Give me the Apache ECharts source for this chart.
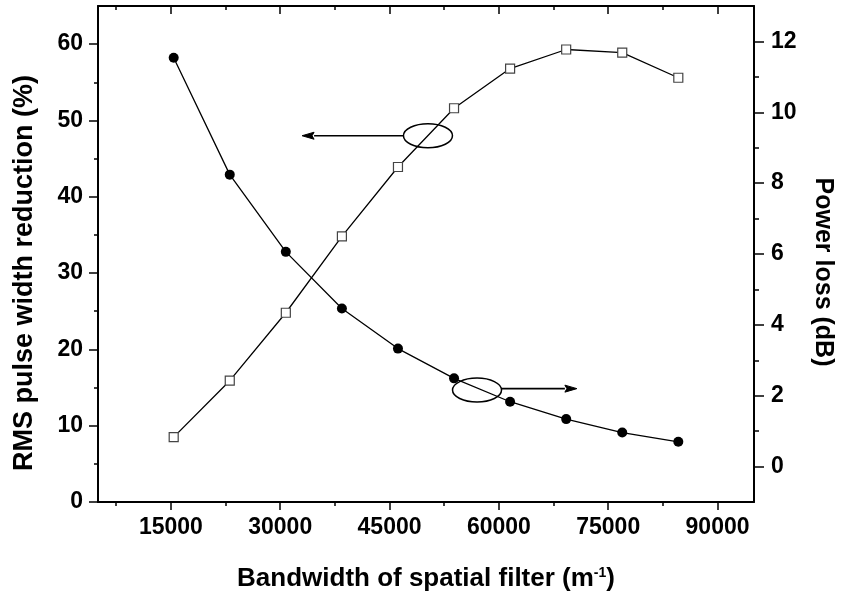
<!DOCTYPE html>
<html><head><meta charset="utf-8">
<script src="https://cdn.jsdelivr.net/npm/echarts@6/dist/echarts.min.js"></script>
<style>html,body{margin:0;padding:0;background:#fff}#c{width:843px;height:602px}</style>
</head><body><div id="c"></div>
<script>
// ---- data ----
const bandwidth = [15385, 23077, 30769, 38462, 46154, 53846, 61538, 69231, 76923, 84615];
const rmsReduction = [8.5, 15.9, 24.8, 34.8, 43.9, 51.6, 56.8, 59.3, 58.9, 55.6];
const powerLoss = [11.54, 8.24, 6.06, 4.46, 3.33, 2.49, 1.83, 1.34, 0.96, 0.70];
const xMajorTicks = [15000, 30000, 45000, 60000, 75000, 90000];
const xMinorTicks = [7500, 22500, 37500, 52500, 67500, 82500];
const leftMajorTicks = [0, 10, 20, 30, 40, 50, 60];
const leftMinorTicks = [5, 15, 25, 35, 45, 55];
const rightMajorTicks = [0, 2, 4, 6, 8, 10, 12];
const rightMinorTicks = [1, 3, 5, 7, 9, 11];
// annotation anchors in data space
const leftAnnot = { center: [50270, 48], from: [46960, 48], to: [33000, 48] };     // left axis
const rightAnnot = { center: [57000, 2.16], from: [60400, 2.2], to: [70700, 2.2] }; // right axis

const FONT = "'Liberation Sans', Arial, sans-serif";
const chart = echarts.init(document.getElementById('c'), null, { renderer: 'canvas' });
const plain = v => String(v);

function xAx(pos, ticks, len, inside, showLine, labels) {
  return {
    type: 'value', position: pos, min: 5000, max: 95000,
    axisLine: { show: showLine, onZero: false, lineStyle: { color: '#000', width: 2 } },
    axisTick: { show: true, inside: inside, length: len, customValues: ticks, lineStyle: { color: '#000', width: 1.5 } },
    axisLabel: labels ? { show: true, customValues: ticks, formatter: plain, margin: 14, color: '#000', fontSize: 23, fontWeight: 'bold', fontFamily: FONT } : { show: false },
    splitLine: { show: false }
  };
}
function yAx(pos, min, max, ticks, len, showLine, labels, margin) {
  return {
    type: 'value', position: pos, min: min, max: max,
    axisLine: { show: showLine, onZero: false, lineStyle: { color: '#000', width: 2 } },
    axisTick: { show: true, inside: false, length: len, customValues: ticks, lineStyle: { color: '#000', width: 1.5 } },
    axisLabel: labels ? { show: true, customValues: ticks, formatter: plain, margin: margin, color: '#000', fontSize: 23, fontWeight: 'bold', fontFamily: FONT } : { show: false },
    splitLine: { show: false }
  };
}

const xMain = xAx('bottom', xMajorTicks, 8, false, true, true);
xMain.name = 'Bandwidth of spatial filter (m{sup|-1})';
xMain.nameLocation = 'middle';
xMain.nameGap = 64;
xMain.nameTextStyle = { color: '#000', fontSize: 26, fontWeight: 'bold', fontFamily: FONT,
  rich: { sup: { fontSize: 14, fontWeight: 'bold', fontFamily: FONT, color: '#000', verticalAlign: 'top' } } };

const yLeft = yAx('left', 0, 65, leftMajorTicks, 9, true, true, 15);
yLeft.name = 'RMS pulse width reduction (%)';
yLeft.nameLocation = 'middle';
yLeft.nameGap = 60;
yLeft.nameTextStyle = { color: '#000', fontSize: 27, fontWeight: 'bold', fontFamily: FONT, padding: [0, 38, 0, 0] };

const yRight = yAx('right', -1, 13, rightMajorTicks, 10, true, true, 17);
yRight.name = 'Power loss (dB)';
yRight.nameLocation = 'middle';
yRight.nameRotate = -90;
yRight.nameGap = 56;
yRight.nameTextStyle = { color: '#000', fontSize: 25, fontWeight: 'bold', fontFamily: FONT, padding: [0, 0, 0, 36] };

chart.setOption({
  animation: false,
  backgroundColor: '#fff',
  grid: { left: 98, right: 85, top: 6, bottom: 100, containLabel: false },
  xAxis: [
    xMain,
    xAx('bottom', xMinorTicks, 4, false, false, false),
    xAx('top', xMajorTicks, 8, true, true, false),
    xAx('top', xMinorTicks, 4, true, false, false)
  ],
  yAxis: [
    yLeft,
    yRight,
    yAx('left', 0, 65, leftMinorTicks, 4, false, false, 0),
    yAx('right', -1, 13, rightMinorTicks, 5, false, false, 0)
  ],
  series: [
    {
      name: 'RMS pulse width reduction', type: 'line', xAxisIndex: 0, yAxisIndex: 0,
      data: bandwidth.map((x, i) => [x, rmsReduction[i]]),
      symbol: 'rect', symbolSize: 9, showAllSymbol: true,
      lineStyle: { color: '#000', width: 1.3 },
      itemStyle: { color: '#fff', borderColor: '#444', borderWidth: 1.2 },
      z: 3
    },
    {
      name: 'Power loss', type: 'line', xAxisIndex: 0, yAxisIndex: 1,
      data: bandwidth.map((x, i) => [x, powerLoss[i]]),
      symbol: 'circle', symbolSize: 10, showAllSymbol: true,
      lineStyle: { color: '#000', width: 1.3 },
      itemStyle: { color: '#000', borderColor: '#000', borderWidth: 0 },
      z: 3
    }
  ]
});

function px(pt, yi) { return chart.convertToPixel({ xAxisIndex: 0, yAxisIndex: yi }, pt); }
function annot(a, yi, dir) {
  const c = px(a.center, yi), f = px(a.from, yi), t = px(a.to, yi);
  const hl = 12, hw = 3.5;
  const back = t[0] - dir * hl;
  return [
    { type: 'ellipse', shape: { cx: c[0], cy: c[1], rx: 24.5, ry: 12 }, style: { fill: 'none', stroke: '#000', lineWidth: 1.5 }, z: 10 },
    { type: 'line', shape: { x1: f[0], y1: f[1], x2: back, y2: t[1] }, style: { stroke: '#000', lineWidth: 1.6 }, z: 10 },
    { type: 'polygon', shape: { points: [[t[0], t[1]], [back, t[1] - hw], [back + dir * 2, t[1]], [back, t[1] + hw]] }, style: { fill: '#000', stroke: '#000', lineWidth: 1 }, z: 10 }
  ];
}
chart.setOption({ graphic: [].concat(annot(leftAnnot, 0, -1), annot(rightAnnot, 1, 1)) });
</script>
</body></html>
